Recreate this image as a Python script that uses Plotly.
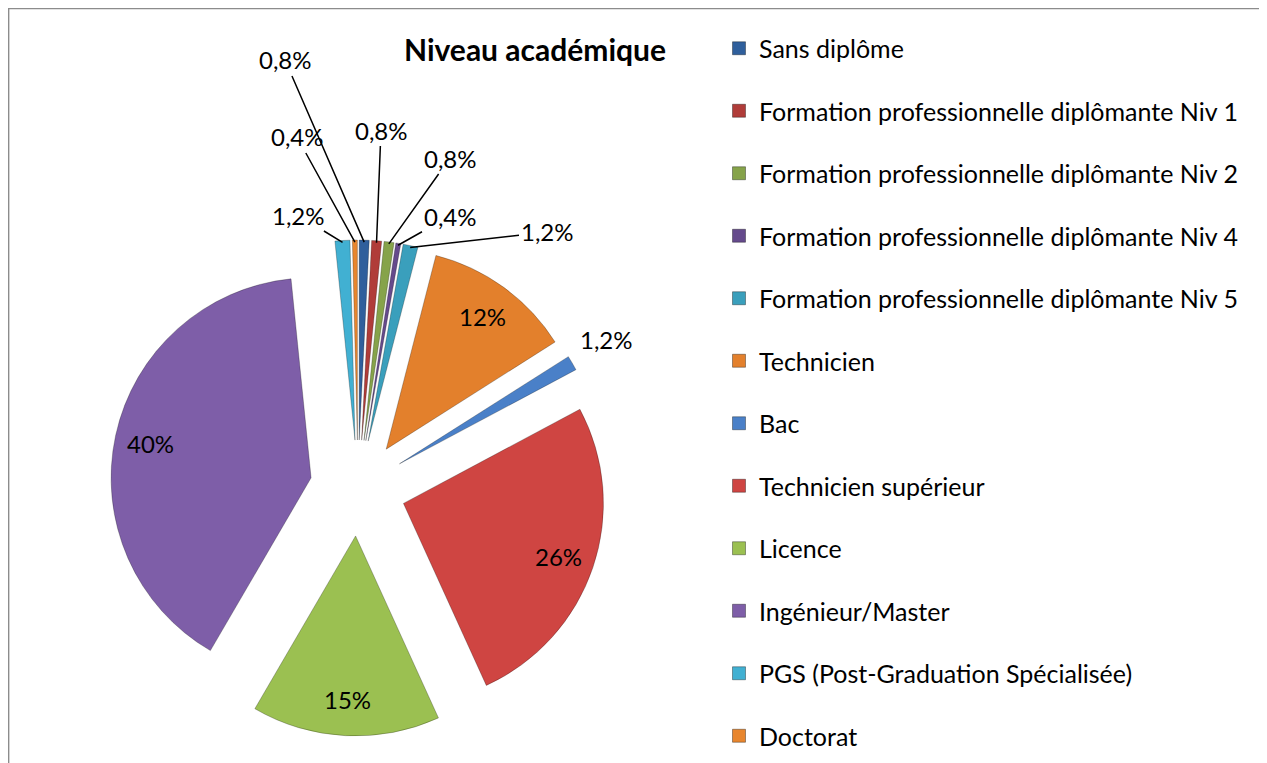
import math
import plotly.graph_objects as go

# ---------------- data ----------------
categories = [
    "Sans diplôme",
    "Formation professionnelle diplômante Niv 1",
    "Formation professionnelle diplômante Niv 2",
    "Formation professionnelle diplômante Niv 4",
    "Formation professionnelle diplômante Niv 5",
    "Technicien",
    "Bac",
    "Technicien supérieur",
    "Licence",
    "Ingénieur/Master",
    "PGS (Post-Graduation Spécialisée)",
    "Doctorat",
]
counts = [2, 2, 2, 1, 3, 30, 3, 65, 38, 100, 3, 1]
pct_labels = ["0,8%", "0,8%", "0,8%", "0,4%", "1,2%", "12%", "1,2%", "26%", "15%", "40%", "1,2%", "0,4%"]
colors = ["#2F5F9C", "#B03C39", "#86A34A", "#654A8C", "#3A9FBC", "#E3802C",
          "#4A80C8", "#CF4542", "#9BC051", "#7E5EA8", "#41B0D2", "#E8862E"]
title_text = "Niveau académique"

# ---------------- layout constants ----------------
W, H = 1267, 763
OFF = 8  # page body margin in the browser
FONT = "Lato"
LBL_SIZE = 24
LEG_SIZE = 25
pull = 0.24
PCX, PCY, PR = 358 - OFF, 488 - OFF, 200  # target pie centre / radius (px)
half = PR * (1 + pull)
dom_x = [(PCX - half) / W, (PCX + half) / W]
dom_y = [(H - (PCY + half)) / H, (H - (PCY - half)) / H]

fig = go.Figure()
fig.add_trace(go.Pie(
    labels=categories,
    values=counts,
    text=pct_labels,
    textinfo="none",
    marker=dict(colors=colors, line=dict(color="rgba(0,0,0,0.25)", width=1)),
    sort=False,
    direction="clockwise",
    rotation=0,
    pull=pull,
    domain=dict(x=dom_x, y=dom_y),
    showlegend=False,
    hoverinfo="label+text",
))

# legend entries
for cat, col in zip(categories, colors):
    fig.add_trace(go.Scatter(
        x=[None], y=[None], mode="markers",
        marker=dict(symbol="square", size=13, color=col,
                    line=dict(color="rgba(0,0,0,0.35)", width=1)),
        name=cat, legendgroup=cat, showlegend=True, hoverinfo="skip",
    ))

# geometry of the pie (same rule plotly uses)
total = sum(counts)
r = min(W * (dom_x[1] - dom_x[0]), H * (dom_y[1] - dom_y[0])) / (2 + 2 * pull)
cx = W * (dom_x[0] + dom_x[1]) / 2
cy = H * (2 - dom_y[0] - dom_y[1]) / 2

# label text positions (reference pixels) for the small slices
label_pos = {
    0: (285, 60),
    1: (381, 130),
    2: (450, 158),
    3: (450, 216),
    4: (547, 232),
    6: (606, 340),
    10: (298, 215),
    11: (297, 137),
}

annotations = []
cum = 0
for i, c in enumerate(counts):
    mid = (cum + c / 2) / total * 2 * math.pi
    cum += c
    dx, dy = math.sin(mid), -math.cos(mid)
    font = dict(family=FONT, size=LBL_SIZE, color="black")
    if c / total >= 0.1:
        rr = r * (pull + 0.82)
        annotations.append(dict(
            x=(cx + rr * dx) / W, y=1 - (cy + rr * dy) / H,
            xref="paper", yref="paper", text=pct_labels[i],
            xanchor="center", yanchor="middle",
            showarrow=False, font=font))
        continue
    lx, ly = label_pos[i]
    lx -= OFF
    ly -= OFF
    if i == 6:
        annotations.append(dict(x=lx / W, y=1 - ly / H, xref="paper", yref="paper",
                                xanchor="center", yanchor="middle",
                                text=pct_labels[i], showarrow=False, font=font))
        continue
    rr = r * (1 + pull) - 2
    ax_px = cx + rr * dx
    ay_px = cy + rr * dy
    annotations.append(dict(
        x=ax_px / W, y=1 - ay_px / H, xref="paper", yref="paper",
        text=pct_labels[i], showarrow=True,
        ax=lx - ax_px, ay=ly - ay_px,
        arrowhead=0, arrowwidth=1.5, arrowcolor="black", font=font))

fig.update_layout(
    width=W, height=H,
    margin=dict(l=0, r=0, t=0, b=0),
    paper_bgcolor="white", plot_bgcolor="white",
    title=dict(text="<b>" + title_text + "</b>", x=(535 - OFF) / W, y=1 - (50 - OFF) / H,
               xanchor="center", yanchor="middle",
               font=dict(family=FONT, size=30, color="black")),
    xaxis=dict(visible=False), yaxis=dict(visible=False),
    legend=dict(x=(719 - OFF) / W, y=1 - (25.5 - OFF) / H, xanchor="left", yanchor="top",
                font=dict(family=FONT, size=LEG_SIZE, color="black"),
                tracegroupgap=27, itemwidth=30, bgcolor="rgba(0,0,0,0)"),
    annotations=annotations,
    shapes=[dict(type="rect", xref="paper", yref="paper", x0=0.0005, x1=(1263 - OFF) / W,
                 y0=-0.01, y1=0.9995, line=dict(color="#8C8C8C", width=1.5))],
)

fig.write_html("out.html")
